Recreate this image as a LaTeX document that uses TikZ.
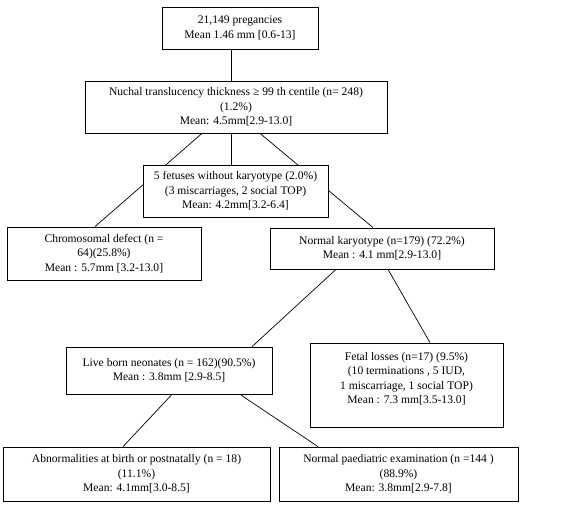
\documentclass[tikz,border=0pt]{standalone}
\usepackage{fontspec}
\setmainfont{Liberation Serif}
\usetikzlibrary{%
	positioning,%
	backgrounds
}

\tikzset{
	box/.style={draw, fill=white, align=center, inner sep=1pt,
		font=\fontsize{11.6}{14.4}\selectfont},
	link/.style={draw, line width=0.7pt}
}

\begin{document}
\begin{tikzpicture}[x=1pt,y=-1pt,line width=0.8pt]
				\useasboundingbox (0,0) rectangle (562,506);
				
				% Centres of the boxes
				\coordinate (c1) at (240,28);
				\coordinate (c2) at (236,107);
				\coordinate (c3) at (235.5,191);
				\coordinate (cchrom) at (104,253.5);
				\coordinate (cnormk) at (382,248.5);
				\coordinate (cfetal) at (406.5,385);
				\coordinate (clive) at (169,370.5);
				\coordinate (cabn) at (136.5,474);
				\coordinate (cpaed) at (398.5,474);
				
				% Boxes
				\node[box, minimum width=156pt, minimum height=42pt] (preg) at (c1)
					{21,149 pregancies\\Mean 1.46 mm [0.6-13]};
				\node[box, minimum width=302pt, minimum height=52pt] (nuchal) at (c2)
					{Nuchal translucency thickness ≥ 99 th centile (n= 248)\\(1.2\%)\\Mean: 4.5mm[2.9-13.0]};
				\node[box, minimum width=185pt, minimum height=52pt] (nokaryo) at (c3)
					{5 fetuses without karyotype (2.0\%)\\(3 miscarriages, 2 social TOP)\\Mean: 4.2mm[3.2-6.4]};
				\node[box, minimum width=194pt, minimum height=53pt] (chrom) at (cchrom)
					{Chromosomal defect (n =\\64)(25.8\%)\\Mean : 5.7mm [3.2-13.0]};
				\node[box, minimum width=224pt, minimum height=41pt] (normk) at (cnormk)
					{Normal karyotype (n=179) (72.2\%)\\Mean : 4.1 mm[2.9-13.0]};
				\node[box, minimum width=193pt, minimum height=84pt] (fetal) at (cfetal)
					{Fetal losses (n=17) (9.5\%)\\(10 terminations , 5 IUD,\\1 miscarriage, 1 social TOP)\\Mean : 7.3 mm[3.5-13.0]\\\mbox{}};
				\node[box, minimum width=206pt, minimum height=47pt] (live) at (clive)
					{Live born neonates (n = 162)(90.5\%)\\Mean : 3.8mm [2.9-8.5]};
				\node[box, minimum width=267pt, minimum height=54pt] (abn) at (cabn)
					{Abnormalities at birth or postnatally (n = 18)\\(11.1\%)\\Mean: 4.1mm[3.0-8.5]};
				\node[box, minimum width=239pt, minimum height=54pt] (paed) at (cpaed)
					{Normal paediatric examination (n =144 )\\(88.9\%)\\Mean: 3.8mm[2.9-7.8]};
				
				% Links
				\begin{pgfonlayer}{background}
					\draw[link] ([xshift=-9pt]preg.south) -- ([xshift=-5pt]nuchal.north);
					\draw[link] ([xshift=-5pt]nuchal.south) -- ([xshift=-4.5pt]nokaryo.north);
					\draw[link] ([xshift=-34pt]nuchal.south) -- ([xshift=-9pt]chrom.north);
					\draw[link] ([xshift=24pt]nuchal.south) -- ([xshift=-9pt]normk.north);
					\draw[link] ([xshift=-46pt]normk.south) -- ([xshift=83pt]live.north);
					\draw[link] ([xshift=6pt]normk.south) -- ([xshift=23.5pt]fetal.north);
					\draw[link] ([xshift=3pt]live.south) -- ([xshift=-13.5pt]abn.north);
					\draw[link] ([xshift=71pt]live.south) -- ([xshift=-80.5pt]paed.north);
				\end{pgfonlayer}
			\end{tikzpicture}
\end{document}
